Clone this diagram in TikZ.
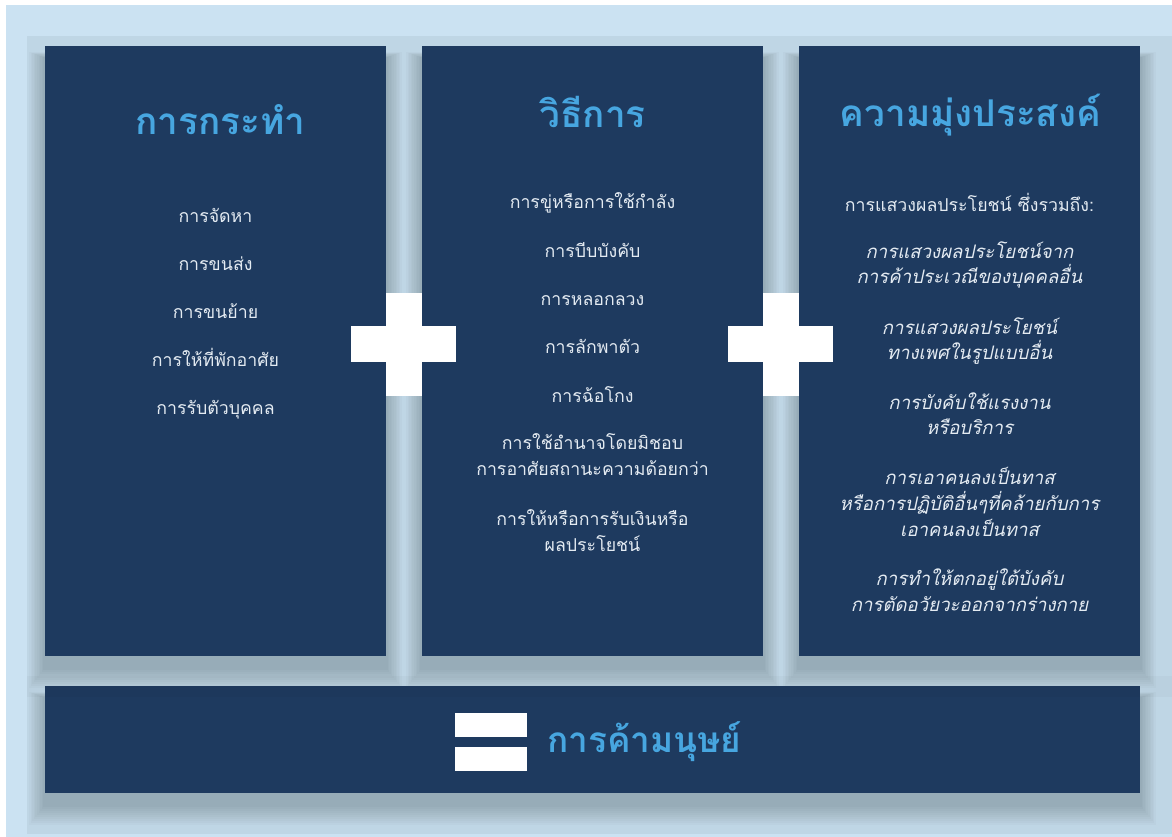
\documentclass[tikz,border=0pt]{standalone}
\usepackage{fontspec}
\newfontfamily\thaifont[Script=Thai]{Loma}
\usetikzlibrary{calc}

\definecolor{pagebg}{HTML}{CBE2F2}
\definecolor{innerbg}{HTML}{BFD6E5}
\definecolor{boxblue}{HTML}{1E3A5F}
\definecolor{titleblue}{HTML}{47A6E0}
\definecolor{itemgrey}{HTML}{E4EBF2}

\tikzset{
  panel/.style={fill=boxblue},
  bar/.style={fill=white},
  heading/.style={text=titleblue, anchor=base, inner sep=0pt,
    font=\thaifont\bfseries\fontsize{21}{25}\selectfont},
  item/.style={text=itemgrey, anchor=base, inner sep=0pt, align=center,
    font=\thaifont\fontsize{10.1}{14.5}\selectfont},
  goal/.style={item, font=\thaifont\itshape\fontsize{10.6}{14.7}\selectfont},
}

\begin{document}
\begin{tikzpicture}[x=0.02cm, y=-0.02cm]
  \useasboundingbox (0,0) rectangle (1172,837);
  % background
  \fill[pagebg] (6,5) rectangle (1172,837);
  \fill[innerbg] (27,36) rectangle (1172,834);
  % soft shadows
  \foreach \xa/\ya/\xb/\yb in {45/46/386/656, 422/46/763/656, 799/46/1140/656, 45/686/1140/793}
    \foreach \k in {2,4,...,20}
      \fill[black, opacity=0.018] (\xa-0.8*\k,\ya-0.3*\k+12) rectangle (\xb+0.8*\k,\yb+\k+12);
  % panels
  \fill[panel] (45,46) rectangle (386,656);
  \fill[panel] (422,46) rectangle (763,656);
  \fill[panel] (799,46) rectangle (1140,656);
  \fill[panel] (45,686) rectangle (1140,793);
  \fill[black, opacity=0.025] (27,676) rectangle (1172,697);

  % first column
  \node[heading] (act) at (220.5,135) {การกระทำ};
  \node[item] (act1) at (215.5,223) {การจัดหา};
  \node[item] (act2) at (215.5,271) {การขนส่ง};
  \node[item] (act3) at (215.5,319) {การขนย้าย};
  \node[item] (act4) at (215.5,367) {การให้ที่พักอาศัย};
  \node[item] (act5) at (215.5,415) {การรับตัวบุคคล};

  % second column
  \node[heading] (means) at (592.5,128) {วิธีการ};
  \node[item] (means1) at (592.5,209) {การขู่หรือการใช้กำลัง};
  \node[item] (means2) at (592.5,258) {การบีบบังคับ};
  \node[item] (means3) at (592.5,306) {การหลอกลวง};
  \node[item] (means4) at (592.5,354) {การลักพาตัว};
  \node[item] (means5) at (592.5,402) {การฉ้อโกง};
  \node[item] (means6) at (592.5,475) {การใช้อำนาจโดยมิชอบ\\การอาศัยสถานะความด้อยกว่า};
  \node[item] (means7) at (592.5,551) {การให้หรือการรับเงินหรือ\\ผลประโยชน์};

  % third column
  \node[heading] (purp) at (970.5,127) {ความมุ่งประสงค์};
  \node[item] (purp0) at (969.5,212) {การแสวงผลประโยชน์ ซึ่งรวมถึง:};
  \node[goal] (purp1) at (969.5,284) {การแสวงผลประโยชน์จาก\\การค้าประเวณีของบุคคลอื่น};
  \node[goal] (purp2) at (969.5,360) {การแสวงผลประโยชน์\\ทางเพศในรูปแบบอื่น};
  \node[goal] (purp3) at (969.5,435) {การบังคับใช้แรงงาน\\หรือบริการ};
  \node[goal] (purp4) at (969.5,536) {การเอาคนลงเป็นทาส\\หรือการปฏิบัติอื่นๆที่คล้ายกับการ\\เอาคนลงเป็นทาส};
  \node[goal] (purp5) at (969.5,611) {การทำให้ตกอยู่ใต้บังคับ\\การตัดอวัยวะออกจากร่างกาย};

  % plus signs
  \foreach \cx in {404, 781} {
    \fill[bar] (\cx-53,326) rectangle (\cx+52,362);
    \fill[bar] (\cx-18,293) rectangle (\cx+18,396);
  }
  % equals sign
  \fill[bar] (455,713) rectangle (527,737);
  \fill[bar] (455,747) rectangle (527,771);
  \node[heading, anchor=base west, font=\thaifont\bfseries\fontsize{20}{24}\selectfont]
    (result) at (547,752) {การค้ามนุษย์};
\end{tikzpicture}
\end{document}
